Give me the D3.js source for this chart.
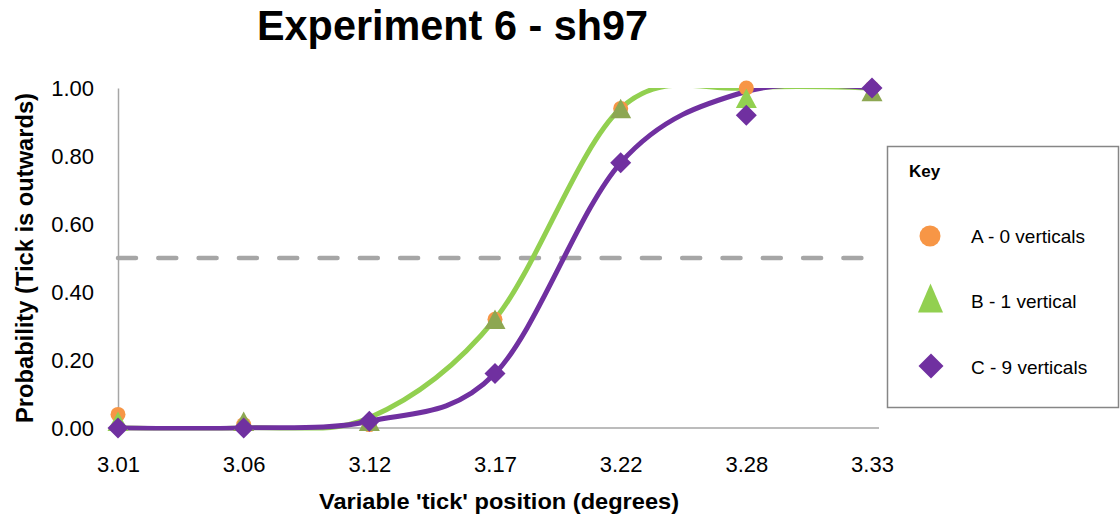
<!DOCTYPE html>
<html>
<head>
<meta charset="utf-8">
<script src="https://cdn.jsdelivr.net/npm/d3@7"></script>
<style>
  html, body { margin: 0; padding: 0; background: #ffffff; }
  svg { display: block; }
  text { font-family: "Liberation Sans", Arial, sans-serif; fill: #000; }
</style>
</head>
<body>
<script>
// ---- data ----
const categories = ["3.01", "3.06", "3.12", "3.17", "3.22", "3.28", "3.33"];
const seriesA = [0.04, 0.01, 0.01, 0.32, 0.94, 1.00, 1.00];   // A - 0 verticals (circles)
const seriesB = [0.02, 0.02, 0.02, 0.32, 0.94, 0.97, 0.99];   // B - 1 vertical (triangles)
const seriesC = [0.00, 0.00, 0.02, 0.16, 0.78, 0.92, 1.00];   // C - 9 verticals (diamonds)
const fitB = [0.00, 0.00, 0.03, 0.32, 0.94, 1.00, 1.00];      // fitted curve (green)
const fitC = [0.00, 0.00, 0.02, 0.16, 0.78, 0.99, 1.00];      // fitted curve (purple)
const yTicks = [0, 0.2, 0.4, 0.6, 0.8, 1.0];
const thresholdValue = 0.5;
const legendLabels = ["A - 0 verticals", "B - 1 vertical", "C - 9 verticals"];
const titleText = "Experiment 6 - sh97";
const xTitle = "Variable 'tick' position (degrees)";
const yTitle = "Probability (Tick is outwards)";

// ---- setup ----
const W = 1120, H = 517;
const orange = "#F79646", green = "#92D050", olive = "#8DA752", purple = "#7030A0", axisGray = "#A6A6A6";

const svg = d3.select("body").append("svg").attr("width", W).attr("height", H);
svg.append("rect").attr("width", W).attr("height", H).attr("fill", "#fff");

const x = d3.scalePoint().domain(categories).range([118, 872]);
const y = d3.scaleLinear().domain([0, 1]).range([428, 88]);

// title
svg.append("text").attr("x", 452.5).attr("y", 40).attr("text-anchor", "middle")
  .attr("font-size", 43).attr("font-weight", "bold")
  .attr("textLength", 391).attr("lengthAdjust", "spacingAndGlyphs").text(titleText);

// clip for curves (top clipped at axis max)
svg.append("clipPath").attr("id", "plotclip").append("rect")
  .attr("x", x.range()[0] - 10).attr("y", y(1))
  .attr("width", x.range()[1] - x.range()[0] + 20).attr("height", y(0) - y(1) + 2.5);

// y axis
const yAxis = svg.append("g").attr("transform", `translate(${x.range()[0]},0)`)
  .call(d3.axisLeft(y).tickValues(yTicks).tickFormat(d3.format(".2f")).tickSize(0).tickPadding(24));
yAxis.select(".domain").attr("stroke", axisGray).attr("stroke-width", 1.5);
yAxis.selectAll("text").attr("font-size", 22).attr("font-family", "Liberation Sans, Arial, sans-serif").attr("fill", "#000");

// x axis
const xAxis = svg.append("g").attr("transform", `translate(0,${y(0)})`)
  .call(d3.axisBottom(x).tickSize(0).tickPadding(28));
xAxis.select(".domain").remove();
xAxis.selectAll("text").attr("font-size", 22).attr("font-family", "Liberation Sans, Arial, sans-serif").attr("fill", "#000");
svg.append("line").attr("x1", x.range()[0]).attr("x2", x.range()[1] + 7)
  .attr("y1", y(0)).attr("y2", y(0)).attr("stroke", axisGray).attr("stroke-width", 1.5);

// axis titles
svg.append("text").attr("x", 499).attr("y", 509).attr("text-anchor", "middle")
  .attr("font-size", 22).attr("font-weight", "bold")
  .attr("textLength", 360).attr("lengthAdjust", "spacingAndGlyphs").text(xTitle);
svg.append("text").attr("transform", "translate(33,258) rotate(-90)").attr("text-anchor", "middle")
  .attr("font-size", 23).attr("font-weight", "bold")
  .attr("textLength", 330).attr("lengthAdjust", "spacingAndGlyphs").text(yTitle);

// threshold dashed line
svg.append("line").attr("x1", x(categories[0])).attr("x2", x(categories[categories.length - 1]))
  .attr("y1", y(thresholdValue)).attr("y2", y(thresholdValue))
  .attr("stroke", axisGray).attr("stroke-width", 4.5).attr("stroke-linecap", "round")
  .attr("stroke-dasharray", "18 22.3");

// fitted curves
const line = d3.line().x((d, i) => x(categories[i])).y(d => y(d)).curve(d3.curveCardinal.tension(0));
const curves = svg.append("g").attr("clip-path", "url(#plotclip)");
curves.append("path").datum(fitB).attr("d", line).attr("fill", "none").attr("stroke", green).attr("stroke-width", 5);
curves.append("path").datum(fitC).attr("d", line).attr("fill", "none").attr("stroke", purple).attr("stroke-width", 5);

// markers
function triPath(cx, cy, w, h) {
  return `M${cx},${cy - h / 2}L${cx + w / 2},${cy + h / 2}L${cx - w / 2},${cy + h / 2}Z`;
}
function diaPath(cx, cy, r) {
  return `M${cx},${cy - r}L${cx + r},${cy}L${cx},${cy + r}L${cx - r},${cy}Z`;
}
svg.append("g").selectAll("circle").data(seriesA).join("circle")
  .attr("cx", (d, i) => x(categories[i])).attr("cy", d => y(d)).attr("r", 7.5).attr("fill", orange);
svg.append("g").selectAll("path").data(seriesB).join("path")
  .attr("d", (d, i) => triPath(x(categories[i]), y(d), 21, 19.5))
  .attr("fill", (d, i) => Math.abs(d - seriesA[i]) < 0.015 ? olive : green);
svg.append("g").selectAll("path").data(seriesC).join("path")
  .attr("d", (d, i) => diaPath(x(categories[i]), y(d), 10.5))
  .attr("fill", purple);

// legend
const lg = svg.append("g");
lg.append("rect").attr("x", 887.5).attr("y", 146.5).attr("width", 231).attr("height", 261)
  .attr("fill", "#fff").attr("stroke", "#868686").attr("stroke-width", 1.5);
lg.append("text").attr("x", 909).attr("y", 177).attr("font-size", 17).attr("font-weight", "bold").text("Key");
const legendY = [236, 298, 366];
const legendBase = [243, 308, 374];
lg.append("circle").attr("cx", 930).attr("cy", legendY[0]).attr("r", 10.5).attr("fill", orange);
lg.append("path").attr("d", triPath(930.5, legendY[1], 25, 29)).attr("fill", green);
lg.append("path").attr("d", diaPath(931, legendY[2], 12.5)).attr("fill", purple);
lg.selectAll("text.item").data(legendLabels).join("text").attr("class", "item")
  .attr("x", 971).attr("y", (d, i) => legendBase[i]).attr("font-size", 19).text(d => d);
</script>
</body>
</html>
